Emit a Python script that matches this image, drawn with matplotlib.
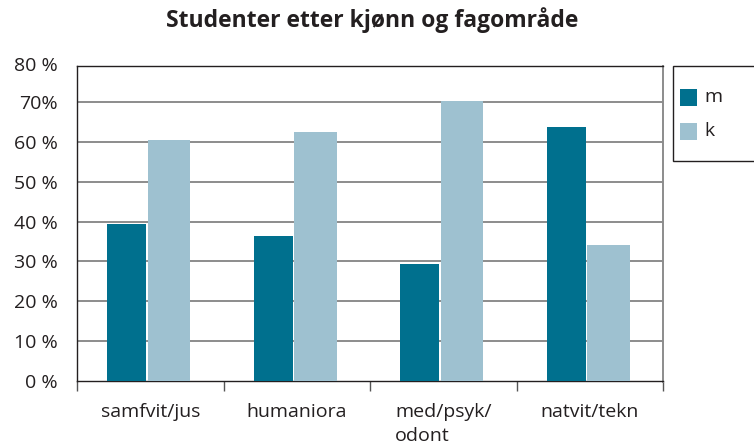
import numpy as np
import matplotlib
matplotlib.use("Agg")
import matplotlib.pyplot as plt
from matplotlib.patches import Rectangle

plt.rcParams['font.family'] = ['Open Sans', 'DejaVu Sans']

categories = ["samfvit/jus", "humaniora", "med/psyk/\nodont", "natvit/tekn"]
menn = [39.4, 36.4, 29.4, 63.7]
kvinner = [60.5, 62.4, 70.3, 34.2]
ytick_vals = [0, 10, 20, 30, 40, 50, 60, 70, 80]
ytick_labels = ["0 %", "10 %", "20 %", "30 %", "40 %", "50 %", "60 %", "70%", "80 %"]
series = ["m", "k"]

c_m = "#00708e"
c_k = "#9ec1d0"
grid_c = "#8c8c8c"
text_c = "#231f20"
fs = 14

fig = plt.figure(figsize=(7.54, 4.48), dpi=100)
ax = fig.add_axes([77 / 754, 1 - 381 / 448, 586 / 754, 315 / 448])

x = np.arange(len(categories))
ax.bar(x - 0.16, menn, 0.266, color=c_m, edgecolor="none", zorder=3)
ax.bar(x + 0.128, kvinner, 0.29, color=c_k, edgecolor="none", zorder=3)

ax.set_xlim(-0.5, len(categories) - 0.5)
ax.set_ylim(0, 79)

ax.set_yticks(ytick_vals[:-1])
ax.set_yticklabels(ytick_labels[:-1])
ax.annotate(ytick_labels[-1], xy=(0, 1), xycoords="axes fraction",
            xytext=(-14, 0), textcoords="offset points",
            ha="right", va="center", fontsize=fs, color=text_c)
ax.tick_params(axis="y", length=0, pad=14, labelsize=fs, labelcolor=text_c)
for v in ytick_vals[1:-1]:
    ax.axhline(v, color=grid_c, linewidth=1.4, zorder=1)

ax.set_xticks(np.arange(-0.5, len(categories), 1.0))
ax.set_xticklabels([])
ax.tick_params(axis="x", which="major", length=7, width=1, color="#555555")
ax.set_xticks(x, minor=True)
ax.set_xticklabels(categories, minor=True, multialignment="left", linespacing=1.4)
ax.tick_params(axis="x", which="minor", length=0, pad=16, labelsize=fs, labelcolor=text_c)

for s in ["left", "top", "bottom"]:
    ax.spines[s].set_color(text_c)
    ax.spines[s].set_linewidth(1.0)
ax.spines["right"].set_color(grid_c)
ax.spines["right"].set_linewidth(1.4)
ax.spines["right"].set_bounds(-9 / 40, 79)
ax.spines["right"].set_clip_on(False)

fig.text(0.494, 1 - 20 / 448, "Studenter etter kjønn og fagområde", ha="center", va="center",
         fontsize=16.5, fontweight="bold", color=text_c)

# legend box, running off the right edge like the original
box = Rectangle((673 / 754, 1 - 161 / 448), 0.2, 95 / 448, transform=fig.transFigure,
                facecolor="white", edgecolor=text_c, linewidth=1.0)
fig.patches.append(box)
for i, (lab, col) in enumerate(zip(series, [c_m, c_k])):
    ytop = 89 + i * 34
    fig.patches.append(Rectangle((680 / 754, 1 - (ytop + 17) / 448), 17 / 754, 17 / 448,
                                 transform=fig.transFigure, facecolor=col, edgecolor="none"))
    fig.text(704 / 754, 1 - (ytop + 8.5) / 448, lab, ha="left", va="center",
             fontsize=fs, color=text_c)

fig.savefig("out.png", dpi=100)
